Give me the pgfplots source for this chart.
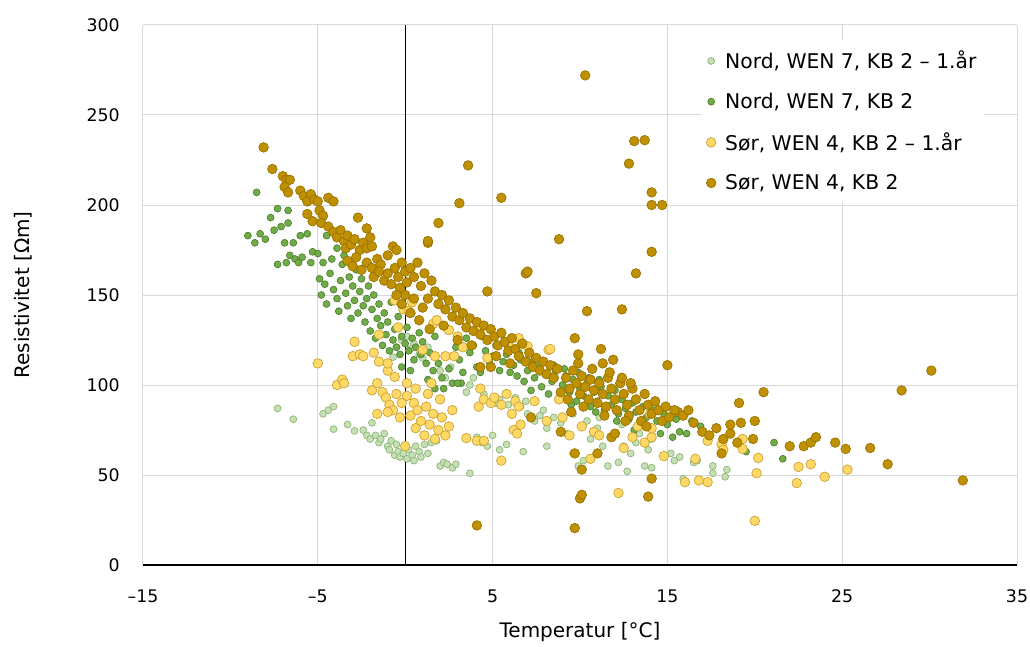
\documentclass[border=0pt]{standalone}
\usepackage{fontspec}
\setmainfont{DejaVu Sans}
\usepackage{pgfplots}
\pgfplotsset{compat=1.18}
\definecolor{lgF}{HTML}{C5E0B4}\definecolor{lgE}{HTML}{8DB475}
\definecolor{dgF}{HTML}{70AD47}\definecolor{dgE}{HTML}{507E32}
\definecolor{lyF}{HTML}{FFD966}\definecolor{lyE}{HTML}{C9A030}
\definecolor{dyF}{HTML}{BF9000}\definecolor{dyE}{HTML}{977200}
\definecolor{gridc}{HTML}{D9D9D9}
\begin{document}
\begin{tikzpicture}
\useasboundingbox (-107.25pt,-60.75pt) rectangle (665.25pt,423.75pt);
\begin{axis}[
 scale only axis, width=655.5pt, height=405pt,
 xmin=-15, xmax=35, ymin=0, ymax=300, clip=false,
 xtick={-15,-5,5,15,25,35}, xticklabels={–15,–5,5,15,25,35},
 ytick={0,50,...,300},
 grid=major, grid style={gridc, line width=0.75pt},
 axis line style={draw=none},
 major tick length=0pt,
 /pgf/number format/assume math mode=true,
 tick label style={font=\fontsize{13}{15}\selectfont, text=black},
 xticklabel style={yshift=-15pt},
 yticklabel style={xshift=-14pt},
 xlabel={Temperatur [°C]}, ylabel={Resistivitet [Ωm]},
 label style={font=\fontsize{15}{17}\selectfont},
 x label style={at={(axis description cs:0.5,0)}, anchor=center, yshift=-50pt},
 y label style={at={(axis description cs:0,0.5)}, anchor=center, yshift=90pt},
 legend cell align=left,
 legend image code/.code={\path[draw=none,fill=none] (0cm,-0.1cm) rectangle (0.42cm,0.1cm); \draw[#1] plot coordinates {(0.12cm,0cm)};},
 legend style={at={(0.963,0.972)}, anchor=north east, draw=none, fill=white,
   font=\fontsize{15.2}{17.5}\selectfont, row sep=12.6pt, inner xsep=4pt, inner ysep=6pt},
]
\addplot[black, line width=0.75pt, forget plot] coordinates {(0,0) (0,300)};
\addplot[black, line width=1pt, forget plot] coordinates {(-15,0) (35,0)};

\addplot[only marks, mark=*, mark size=2.6pt, mark options={fill=lgF, draw=lgE, line width=0.5pt}] coordinates {
(-7.3,87) (-6.4,81) (-4.7,84) (-4.4,86) (-4.1,88) (-4.1,75.5) (-3.3,78) (-2.9,74.5) (-2.4,75) (-2.2,72)
(-2,70) (-1.9,79) (-1.7,72) (-1.5,68) (-1.4,70) (-1.2,73) (-1,66) (-0.9,64) (-0.8,69) (-0.6,61)
(-0.5,67) (-0.4,63) (-0.3,60) (-0.1,62) (0.1,59) (0.2,64) (0.4,61) (0.5,58) (0.6,66) (0.8,63)
(0.9,60) (1.1,67) (1.3,62) (1.5,68) (1.8,69) (2,55) (2.2,57) (2.4,56) (2.7,54) (2.9,56)
(3.7,51) (4.1,71) (4.4,68) (4.7,66) (5,72) (5.4,64) (5.8,67) (6.75,63) (8.1,66) (-0.7,115.5)
(-0.5,121) (-0.2,125) (0.1,127) (0.3,120) (0.5,123) (0.8,117) (1,115) (1.3,121) (2,108) (2.3,104)
(2.6,110) (3.5,96) (3.7,100) (3.9,104) (5.4,92) (5.9,89) (6.3,93) (6.6,88) (7,84) (7.4,80)
(7.7,83) (8.1,76) (8.5,82) (8.9,79) (9.2,73) (9.6,84) (9.6,62) (9.9,55) (10.2,58) (10.4,80)
(10.6,70) (11,76) (11.3,66) (11.6,55) (11.9,72) (12.2,57) (12.5,66) (12.7,52) (12.9,62) (13.2,68)
(13.4,73) (13.7,55) (13.9,64) (14.1,54) (14.1,70) (15.2,62) (15.4,58) (15.7,60) (15.9,48) (16.5,57)
(16.7,58) (17.6,51) (17.6,55) (18.3,49) (18.4,53) (12.4,78) (11.1,82) (7.9,86) (6.9,91) (4.5,95) (5.2,90)
};
\addlegendentry{Nord, WEN 7, KB 2 – 1.år}

\addplot[only marks, mark=*, mark size=2.6pt, mark options={fill=dgF, draw=dgE, line width=0.5pt}] coordinates {
(-9,183) (-8.6,179) (-8.5,207) (-8.3,184) (-8,181) (-7.7,193) (-7.5,186) (-7.3,198) (-7.3,167) (-7.1,188)
(-6.9,179) (-6.8,168) (-6.7,197) (-6.7,190) (-6.6,172) (-6.4,179) (-6.3,170) (-6.1,168) (-6,183) (-5.9,171)
(-5.6,184) (-5.4,168) (-5.3,174) (-5,173) (-4.9,159) (-4.8,150) (-4.7,168) (-4.6,156) (-4.5,183) (-4.5,145)
(-4.3,162) (-4.2,170) (-4.1,153) (-3.9,176) (-3.9,148) (-3.8,141) (-3.7,158) (-3.6,167) (-3.5,172) (-3.4,151)
(-3.3,144) (-3.2,160) (-3.1,137) (-3,155) (-2.9,147) (-2.8,164) (-2.7,140) (-2.6,152) (-2.5,159) (-2.4,144)
(-2.3,135) (-2.2,148) (-2.1,155) (-2,130) (-1.9,142) (-1.8,150) (-1.7,126) (-1.6,137) (-1.5,145) (-1.4,133)
(-1.3,122) (-1.2,140) (-1.1,128) (-1,135) (-0.9,119) (-0.8,146) (-0.7,125) (-0.6,131) (-0.5,121) (-0.4,138)
(-0.3,117) (-0.2,127) (0,123) (0.1,132) (0.2,119) (0.4,126) (0.5,114) (0.6,121) (0.8,129) (0.9,117)
(1,124) (1.2,112) (1.4,118) (1.6,108) (1.7,127) (1.9,112) (2.1,104) (2.3,116) (2.5,109) (2.7,101)
(2.9,121) (3.1,114) (3.3,107) (3.5,126) (3.7,118) (3.9,122) (4.1,110) (4.3,107) (4.4,127) (4.6,119)
(4.8,113) (5,116) (5.2,122) (5.4,108) (5.6,113) (5.8,117) (6,107) (6.2,111) (6.4,105) (6.6,114)
(6.8,102) (7,108) (7.2,97) (7.4,104) (7.6,110) (7.8,99) (8,106) (8.2,95) (8.4,102) (8.6,108)
(8.8,93) (9,100) (9.2,105) (9.4,96) (9.6,103) (9.8,91) (10,98) (10.2,94) (10.4,101) (10.6,88)
(10.8,96) (11,91) (11.2,99) (11.4,86) (11.6,94) (11.8,89) (12,97) (12.2,84) (12.4,92) (12.6,87)
(12.8,81) (13,90) (13.2,85) (13.4,78) (13.6,88) (13.8,82) (14,76) (14.2,86) (14.4,80) (14.6,73)
(14.8,84) (15,78) (15.3,71) (15.5,81) (15.7,74) (16.1,73) (16.4,80) (16.9,77) (19.5,63) (21.1,68)
(21.6,59) (8.5,111) (9.1,109) (9.9,107) (10.5,104) (11.1,103) (7.3,113) (6.5,118) (5.9,121) (9.5,89)
(10.9,85) (12.1,80) (13.1,75) (3.2,101) (2.2,98) (1.3,103) (0.3,108) (-0.2,110) (1.7,98) (3,101)
};
\addlegendentry{Nord, WEN 7, KB 2}

\addplot[only marks, mark=*, mark size=3.6pt, mark options={fill=lyF, draw=lyE, line width=0.5pt}] coordinates {
(-5,112) (-3.9,100) (-3.6,103) (-3.5,101) (-2.9,124) (-3,116) (-2.6,117) (-2.4,116) (-1.8,118) (-1.5,113)
(-1.5,128) (-1,108) (-1,112) (-0.6,104.5) (-0.4,132) (-0.1,142) (-1.9,97) (-1.6,101) (-1.3,96) (-1.1,93)
(-0.9,89) (-0.7,86) (-0.5,95) (-0.3,82) (-1.6,84) (-1,85) (0.1,94) (0.1,101) (0.3,83) (0.5,90)
(0.7,86) (0,66) (0.6,76) (0.9,80) (1.1,72) (1.2,88) (1.4,78) (1.5,101) (1.6,84) (1.7,70)
(1.9,75) (2.1,82) (2.3,72) (2.5,77) (2.7,86) (1,119.5) (1.7,116) (2.3,116) (2.8,116) (3.5,70.5)
(4.1,69) (4.5,69) (4.2,88) (4.3,98) (4.5,92) (4.9,90) (5.1,93) (5.5,89) (5.8,95) (6.1,84)
(6.3,91) (6.5,88) (5.5,58) (6.2,75) (6.6,78) (6.4,73) (7.4,91) (8.1,80) (8.8,92) (9,82)
(9.4,72) (10.1,77) (10.6,59) (10.8,74) (11.1,72) (12.2,40) (12.5,65) (13,71) (13.3,77) (13.7,68)
(14,84) (14.1,71) (14.1,76) (14.8,60.5) (16,46) (16.6,59) (16.8,47) (17.3,46) (17.3,69) (18.1,67)
(18.2,64) (19.3,70) (19.3,64.5) (20.2,59.5) (20.1,51) (20,24.5) (22.4,45.5) (22.5,54.5) (23.2,56) (24,49)
(25.3,53) (0.4,146) (-0.6,147) (0.2,141) (1.6,134) (1.8,136) (2.5,130.5) (3,127) (3.3,121) (4.3,133)
(4.7,115) (5.9,122) (6.5,126) (7,121.5) (8.2,119.5) (8.3,120) (0.6,98) (-0.2,90) (2.0,92) (1.3,95)
};
\addlegendentry{Sør, WEN 4, KB 2 – 1.år}

\addplot[only marks, mark=*, mark size=3.6pt, mark options={fill=dyF, draw=dyE, line width=0.5pt}] coordinates {
(-8.1,232) (-7.6,220) (-7,216) (-6.8,214) (-6.6,214) (-6.9,210) (-6.7,207) (-6,208) (-5.8,205) (-5.6,202)
(-5.4,206) (-5.2,203) (-5,202) (-4.4,204) (-4.1,202) (-5.6,195) (-5.3,191) (-4.9,197) (-4.7,194) (-4.8,190)
(-4.4,188) (-4.1,185) (-3.9,182) (-3.7,186) (-3.5,180) (-3.3,183) (-3.4,176) (-3.1,178) (-2.9,181) (-2.7,193)
(-2.6,175) (-2.4,179) (-2.2,187) (-2.2,176) (-2,182) (-1.9,177) (-3.3,169) (-3,166) (-2.8,171) (-2.5,164)
(-2.2,168) (-1.9,165) (-1.6,170) (-1.4,167) (-1,172) (-0.7,177) (-0.5,175) (-1.8,160) (-1.5,163) (-1.2,158)
(-1,162) (-0.8,156) (-0.6,165) (-0.4,160) (-0.2,168) (0,163) (-0.3,154) (0,150) (0.1,157) (0.3,165)
(0.5,160) (0.7,168) (0.9,155) (1.3,179) (1.1,162) (1.3,148) (1.5,158) (1.7,152) (1.9,145) (2.1,150)
(2.3,142) (2.5,147) (2.7,138) (2.9,143) (3.1,136) (3.3,140) (3.5,132) (3.7,137) (3.9,130) (4.1,135)
(4.3,128) (4.5,133) (4.7,125) (4.9,131) (5.1,127) (5.3,122) (5.5,129) (5.7,124) (5.9,119) (6.1,126)
(6.3,120) (6.5,116) (6.7,123) (6.9,113) (7.1,118) (7.3,110) (7.5,115) (7.7,108) (7.9,113) (8.1,106)
(8.3,111) (8.5,104) (8.7,109) (4.3,110) (4.9,110) (4.7,152) (6.9,162) (7,163) (7.5,151) (8.8,181)
(9.7,126) (9.9,117) (10.4,141) (11.2,120) (11.3,112) (11.9,114) (12.4,142) (13.2,162) (10.3,272) (13.1,235.5)
(13.7,236) (12.8,223) (14.1,207) (14.1,200) (14.7,200) (14.1,174) (3.6,222) (3.1,201) (5.5,204) (1.9,190)
(1.3,180) (15,111) (4.1,22) (9.7,20.5) (10,37) (10.1,39) (9.7,62) (10.1,53) (11,62) (11.8,71)
(12,73) (14.1,48) (13.9,38) (7.2,82) (9.5,85) (8.9,74) (15.6,85) (15.9,83) (16.2,86) (16.5,79)
(17,74) (17.4,72) (17.8,76) (18.2,70) (18.6,73) (18.1,62) (19.1,90) (19,68) (18.6,78) (19.2,79)
(20,80) (19.9,70) (20.5,96) (22,66) (22.8,66) (23.2,68) (23.5,71) (24.6,68) (25.2,64.5) (26.6,65)
(27.6,56) (28.4,97) (30.1,108) (31.9,47)
(9.2,104) (9.4,98) (9.6,108) (9.8,101) (10,95) (10.1,105) (10.3,99) (10.5,92) (10.6,103) (10.8,97)
(11,90) (11.1,101) (11.3,95) (11.5,88) (11.6,104) (11.8,98) (12,92) (12.1,86) (12.3,101) (12.5,95)
(12.7,89) (12.8,83) (13,98) (13.2,92) (13.4,86) (13.5,80) (13.7,95) (13.9,89) (14.1,84) (14.3,91)
(14.5,86) (14.7,80) (14.9,88) (15.1,82) (15.4,86) (10.2,88) (11.4,83) (12.6,80) (13.8,77) (9.9,112)
(10.7,109) (11.7,107) (12.4,104) (12.9,101) (8.9,96) (9.3,92) (0.3,140) (0.8,136) (1.4,131) (-0.2,145)
(2.2,133) (3.0,125) (3.8,122) (5.2,116) (6.0,112) (0.5,148) (1.0,143) (-0.5,150)
};
\addlegendentry{Sør, WEN 4, KB 2}
\end{axis}
\end{tikzpicture}
\end{document}
